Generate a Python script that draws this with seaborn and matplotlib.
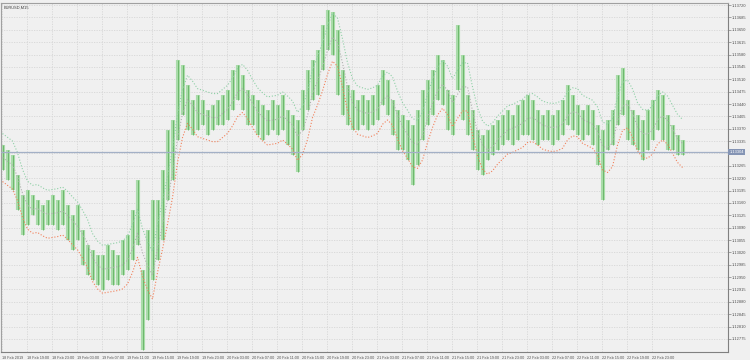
import numpy as np
import pandas as pd
import matplotlib
matplotlib.use("Agg")
import matplotlib.pyplot as plt
import matplotlib.transforms as mtransforms
import seaborn as sns

symbol_title = "EURUSD,M15"
current_price = 1.13304
envelope_period = 3        # in drawn bars
envelope_deviation = 0.06  # percent

high = [1.13324, 1.13310, 1.13295, 1.13239, 1.13182, 1.13196, 1.13182, 1.13168, 1.13154, 1.13168,
        1.13182, 1.13168, 1.13196, 1.13154, 1.13126, 1.13154, 1.13083, 1.13041, 1.13027, 1.13012,
        1.13012, 1.13041, 1.13027, 1.13012, 1.13055, 1.13069, 1.13140, 1.13225, 1.12970, 1.13083,
        1.13168, 1.13168, 1.13253, 1.13366, 1.13394, 1.13564, 1.13550, 1.13493, 1.13451, 1.13465,
        1.13451, 1.13423, 1.13437, 1.13451, 1.13465, 1.13479, 1.13536, 1.13550, 1.13522, 1.13479,
        1.13465, 1.13451, 1.13437, 1.13423, 1.13451, 1.13437, 1.13465, 1.13423, 1.13409, 1.13394,
        1.13479, 1.13536, 1.13564, 1.13593, 1.13663, 1.13706, 1.13700, 1.13649, 1.13536, 1.13493,
        1.13479, 1.13451, 1.13465, 1.13451, 1.13465, 1.13493, 1.13536, 1.13508, 1.13451, 1.13423,
        1.13409, 1.13394, 1.13380, 1.13423, 1.13479, 1.13508, 1.13536, 1.13578, 1.13564, 1.13479,
        1.13465, 1.13663, 1.13578, 1.13465, 1.13423, 1.13366, 1.13352, 1.13366, 1.13380, 1.13394,
        1.13409, 1.13423, 1.13409, 1.13437, 1.13451, 1.13465, 1.13451, 1.13423, 1.13409, 1.13423,
        1.13409, 1.13423, 1.13451, 1.13493, 1.13465, 1.13437, 1.13423, 1.13437, 1.13423, 1.13380,
        1.13366, 1.13394, 1.13423, 1.13522, 1.13542, 1.13451, 1.13423, 1.13409, 1.13394, 1.13423,
        1.13451, 1.13479, 1.13465, 1.13409, 1.13380, 1.13352, 1.13338]
low = [1.13253, 1.13225, 1.13196, 1.13140, 1.13069, 1.13097, 1.13126, 1.13097, 1.13083, 1.13097,
       1.13097, 1.13083, 1.13097, 1.13055, 1.13027, 1.13055, 1.12984, 1.12956, 1.12942, 1.12928,
       1.12913, 1.12942, 1.12928, 1.12928, 1.12956, 1.12970, 1.12998, 1.13041, 1.12744, 1.12828,
       1.12942, 1.12998, 1.13055, 1.13168, 1.13225, 1.13338, 1.13409, 1.13366, 1.13352, 1.13366,
       1.13380, 1.13352, 1.13366, 1.13380, 1.13380, 1.13394, 1.13423, 1.13451, 1.13423, 1.13380,
       1.13380, 1.13352, 1.13338, 1.13352, 1.13366, 1.13352, 1.13366, 1.13324, 1.13295, 1.13247,
       1.13366, 1.13423, 1.13451, 1.13465, 1.13536, 1.13593, 1.13578, 1.13465, 1.13409, 1.13380,
       1.13366, 1.13366, 1.13380, 1.13366, 1.13380, 1.13394, 1.13437, 1.13409, 1.13352, 1.13310,
       1.13310, 1.13281, 1.13210, 1.13267, 1.13338, 1.13380, 1.13409, 1.13451, 1.13437, 1.13366,
       1.13352, 1.13479, 1.13394, 1.13352, 1.13310, 1.13253, 1.13239, 1.13281, 1.13295, 1.13310,
       1.13324, 1.13338, 1.13324, 1.13338, 1.13352, 1.13352, 1.13338, 1.13324, 1.13338, 1.13338,
       1.13324, 1.13338, 1.13352, 1.13380, 1.13366, 1.13352, 1.13338, 1.13352, 1.13324, 1.13267,
       1.13168, 1.13310, 1.13324, 1.13380, 1.13409, 1.13338, 1.13324, 1.13310, 1.13281, 1.13310,
       1.13338, 1.13366, 1.13338, 1.13310, 1.13310, 1.13295, 1.13295]

x_tick_labels = ["18 Feb 2019", "18 Feb 19:00", "18 Feb 23:00", "19 Feb 03:00", "19 Feb 07:00",
                 "19 Feb 11:00", "19 Feb 15:00", "19 Feb 19:00", "19 Feb 23:00", "20 Feb 03:00",
                 "20 Feb 07:00", "20 Feb 11:00", "20 Feb 15:00", "20 Feb 19:00", "20 Feb 23:00",
                 "21 Feb 03:00", "21 Feb 07:00", "21 Feb 11:00", "21 Feb 15:00", "21 Feb 19:00",
                 "21 Feb 23:00", "22 Feb 03:00", "22 Feb 07:00", "22 Feb 11:00", "22 Feb 15:00",
                 "22 Feb 19:00", "22 Feb 23:00"]
y_tick_values = [1.12775, 1.12810, 1.12845, 1.12880, 1.12915, 1.12950, 1.12985, 1.13020, 1.13055,
                 1.13090, 1.13125, 1.13160, 1.13195, 1.13230, 1.13265, 1.13300, 1.13335, 1.13370,
                 1.13405, 1.13440, 1.13475, 1.13510, 1.13545, 1.13580, 1.13615, 1.13650, 1.13685,
                 1.13720]

sns.set_theme(style="white")
FONT = ["Liberation Sans Narrow", "Liberation Sans", "DejaVu Sans"]
plt.rcParams["font.family"] = FONT

BG = "#f0f0f0"
fig = plt.figure(figsize=(7.5, 3.6), dpi=100, facecolor=BG)
ax = fig.add_axes([1 / 750, 8 / 360, 727 / 750, 349 / 360])
ax.set_facecolor(BG)

times = pd.date_range("2019-02-18 15:05", periods=len(high), freq="48min")
df = pd.DataFrame({"time": times, "high": high, "low": low})
df["mid"] = (df["high"] + df["low"]) / 2
df["middle"] = df["mid"].rolling(envelope_period, min_periods=1).mean()
df["upper"] = df["middle"] * (1 + envelope_deviation / 100)
df["lower"] = df["middle"] * (1 - envelope_deviation / 100)

# grid
tick_times = pd.date_range("2019-02-18 15:00", periods=len(x_tick_labels), freq="4h")
for t in tick_times:
    ax.axvline(t, color="#d6d6d6", lw=0.6, ls=(0, (1.5, 1.5)), zorder=0)
for v in y_tick_values:
    ax.axhline(v, color="#d6d6d6", lw=0.6, ls=(0, (1.5, 1.5)), zorder=0)

# bars
ax.vlines(df["time"], df["low"], df["high"], color="#a9dca9", lw=3.0, zorder=2)
ax.vlines(df["time"], df["low"], df["high"], color="#62b262", lw=0.6, zorder=3)

# indicator lines
sns.lineplot(data=df, x="time", y="upper", ax=ax, color="#8fd0a6", lw=0.8, linestyle=":", zorder=4)
sns.lineplot(data=df, x="time", y="middle", ax=ax, color="#b0b0b0", lw=0.8, linestyle=":", zorder=4)
sns.lineplot(data=df, x="time", y="lower", ax=ax, color="#f0805a", lw=0.8, linestyle=":", zorder=4)

# current price
ax.axhline(current_price, color="#a3b0c6", lw=0.9, zorder=5)

step = pd.Timedelta(hours=4)
ax.set_xlim(tick_times[0] - step * (1 / 25), tick_times[0] + step * (726 / 25))
ax.set_ylim(1.12738, 1.13726)

ax.set_xticks(tick_times)
ax.set_xticklabels(x_tick_labels, ha="left", fontsize=2.7, color="#505050")
ax.yaxis.tick_right()
ax.set_yticks(y_tick_values)
# the tick label nearest the current price is hidden under the price box
ax.set_yticklabels(["" if abs(v - current_price) < 0.0001 else f"{v:.5f}" for v in y_tick_values],
                   fontsize=2.9, color="#505050")
ax.tick_params(axis="both", length=2, width=0.5, color="#808080", pad=1.0, direction="out")
ax.set_xlabel("")
ax.set_ylabel("")

for s in ax.spines.values():
    s.set_color("#a0a0a0")
    s.set_linewidth(0.8)
ax.spines["right"].set_color("#808080")
ax.spines["bottom"].set_color("#808080")

trans = mtransforms.blended_transform_factory(ax.transAxes, ax.transData)
ax.text(1.002, current_price, f"{current_price:.5f}", transform=trans, fontsize=2.9, color="white",
        va="center", ha="left", zorder=6,
        bbox=dict(boxstyle="square,pad=0.25", facecolor="#8494b4", edgecolor="none"))
ax.text(0.004, 0.994, symbol_title, transform=ax.transAxes, fontsize=2.9, color="#404040",
        va="top", ha="left")

fig.savefig("out.png", dpi=100, facecolor=BG)
